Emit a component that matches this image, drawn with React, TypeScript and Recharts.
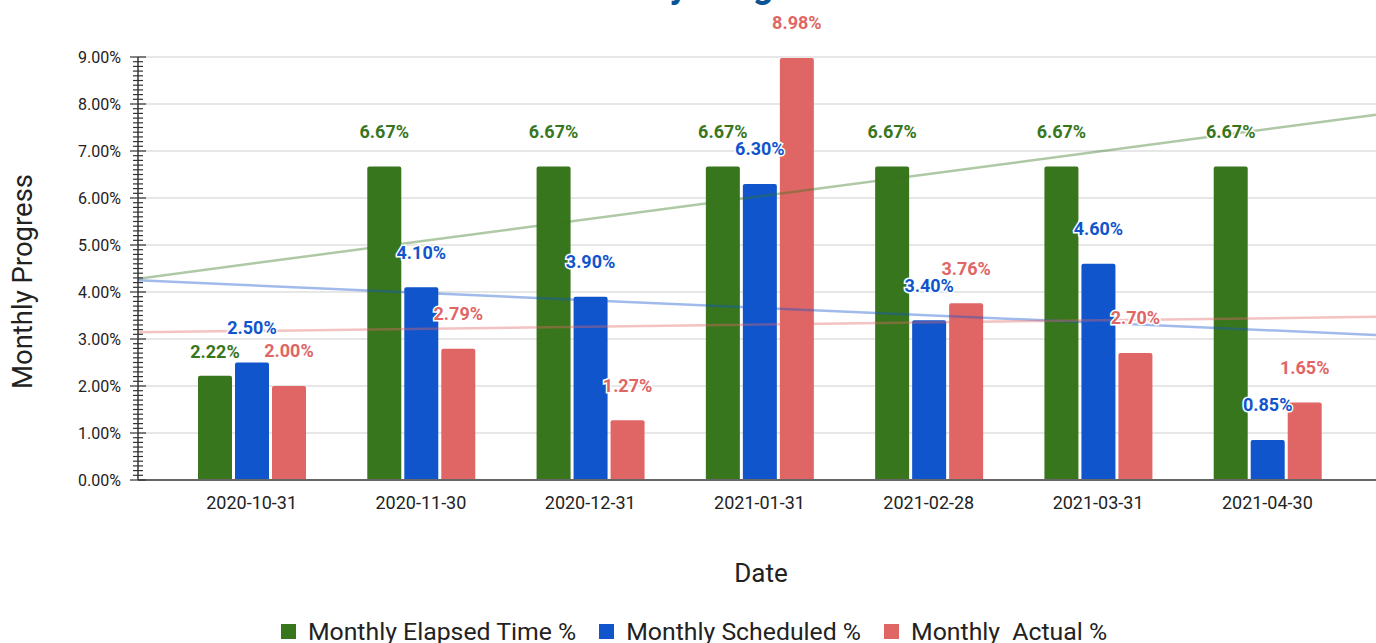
import React from "react";
import {
  ComposedChart,
  Bar,
  Line,
  XAxis,
  YAxis,
  CartesianGrid,
  LabelList,
  Legend,
  Label,
  Customized,
} from "recharts";

// ---- data ----
const dates = ["2020-10-31", "2020-11-30", "2020-12-31", "2021-01-31", "2021-02-28", "2021-03-31", "2021-04-30"];
const elapsedPct = [2.22, 6.67, 6.67, 6.67, 6.67, 6.67, 6.67];
const scheduledPct = [2.5, 4.1, 3.9, 6.3, 3.4, 4.6, 0.85];
const actualPct = [2.0, 2.79, 1.27, 8.98, 3.76, 2.7, 1.65];
const yMajorTicks = [0, 1, 2, 3, 4, 5, 6, 7, 8, 9];

const series = [
  { key: "elapsed", name: "Monthly Elapsed Time %", color: "#38761d", values: elapsedPct },
  { key: "scheduled", name: "Monthly Scheduled %", color: "#1155cc", values: scheduledPct },
  { key: "actual", name: "Monthly  Actual %", color: "#e06666", values: actualPct },
];

const data = dates.map((d, i) => ({
  date: d,
  elapsed: elapsedPct[i],
  scheduled: scheduledPct[i],
  actual: actualPct[i],
}));

// ---- layout ----
const W = 1376;
const H = 643;
const PLOT_LEFT = 138;
const PLOT_TOP = 57;
const PLOT_BOTTOM = 480;
const PAD_L = 29;
const PAD_R = 24;
const LEGEND_H = 24;
const XAXIS_H = H - PLOT_BOTTOM - LEGEND_H;
const FONT = "Roboto, sans-serif";

// minor ticks every 0.1%
const yTicks = Array.from({ length: 91 }, (_, i) => i / 10);

// trend line: least squares over category index, stretched to the plot edges
const plotW = W - PLOT_LEFT;
const band = (plotW - PAD_L - PAD_R) / dates.length;
const trendX0 = -(PAD_L + band / 2) / band;
const trendX1 = (plotW - PAD_L - band / 2) / band;

function trend(values: number[]) {
  const n = values.length;
  const mx = (n - 1) / 2;
  const my = values.reduce((a, b) => a + b, 0) / n;
  let sxy = 0;
  let sxx = 0;
  values.forEach((v, i) => {
    sxy += (i - mx) * (v - my);
    sxx += (i - mx) * (i - mx);
  });
  const slope = sxy / sxx;
  return [trendX0, trendX1].map((x) => ({ x, y: my + slope * (x - mx) }));
}

const YTick = (props: any) => {
  const { x, y, payload } = props;
  const v = payload.value;
  const major = Math.abs(v - Math.round(v)) < 1e-6;
  const half = major ? 8 : 5;
  return (
    <g>
      <line x1={x - half} x2={x + half} y1={y} y2={y} stroke="#333" strokeWidth={1.2} />
      {major && (
        <text x={x - 17} y={y} dy="0.35em" textAnchor="end" fontSize={16} fill="#222" fontFamily={FONT}>
          {v.toFixed(2)}%
        </text>
      )}
    </g>
  );
};

const XTick = (props: any) => {
  const { x, y, payload } = props;
  return (
    <text x={x} y={y + 29} textAnchor="middle" fontSize={18} fill="#222" fontFamily={FONT}>
      {payload.value}
    </text>
  );
};

const makeLabel = (color: string, key: string) => (props: any) => {
  const { x, y, width, value, index } = props;
  let off = 35;
  // nudge the green label down when it would collide with the blue one
  if (key === "elapsed" && scheduledPct[index] > value && scheduledPct[index] - value < 0.5) off = 24;
  return (
    <text
      x={x + width / 2}
      y={y - off}
      dy="0.35em"
      textAnchor="middle"
      fontSize={18}
      fontWeight={700}
      fill={color}
      stroke="#fff"
      strokeWidth={3}
      paintOrder="stroke"
      fontFamily={FONT}
    >
      {Number(value).toFixed(2)}%
    </text>
  );
};

const renderLegend = () => (
  <div
    style={{
      display: "flex",
      justifyContent: "center",
      alignItems: "center",
      height: LEGEND_H,
      fontSize: 24.8,
      color: "#222",
      fontFamily: FONT,
      paddingLeft: 12,
    }}
  >
    {series.map((s, i) => (
      <div key={s.key} style={{ display: "flex", alignItems: "center", marginLeft: i ? 23 : 0 }}>
        <span style={{ width: 15, height: 15, background: s.color, marginRight: 12, display: "inline-block" }} />
        <span style={{ whiteSpace: "pre" }}>{s.name}</span>
      </div>
    ))}
  </div>
);

const Title = () => (
  <text x={699} y={-3} textAnchor="middle" fontSize={36} fontWeight={700} fill="#0b5394" fontFamily={FONT}>
    Monthly Progress
  </text>
);

export default function App() {
  return (
    <div style={{ position: "absolute", left: 0, top: 0, width: W, height: H, background: "#fff", fontFamily: FONT }}>
      <ComposedChart
        width={W}
        height={H}
        data={data}
        margin={{ top: PLOT_TOP, right: 0, left: 0, bottom: 0 }}
        barSize={34}
        barGap={3}
        style={{ overflow: "visible" }}
      >
        <CartesianGrid vertical={false} stroke="#cfcfcf" horizontalValues={yMajorTicks} />
        <XAxis
          dataKey="date"
          height={XAXIS_H}
          padding={{ left: PAD_L, right: PAD_R }}
          axisLine={{ stroke: "#666", strokeWidth: 2 }}
          tickLine={false}
          tickSize={0}
          tickMargin={0}
          tick={<XTick />}
          interval={0}
        >
          <Label
            content={({ viewBox }: any) => (
              <text
                x={viewBox.x + viewBox.width / 2 + 4}
                y={viewBox.y + 102}
                textAnchor="middle"
                fontSize={26}
                fill="#222"
                fontFamily={FONT}
              >
                Date
              </text>
            )}
          />
        </XAxis>
        <XAxis xAxisId="trend" type="number" dataKey="x" domain={[trendX0, trendX1]} allowDataOverflow hide />
        <YAxis
          width={PLOT_LEFT}
          domain={[0, 9]}
          ticks={yTicks}
          interval={0}
          tickLine={false}
          tickSize={0}
          tickMargin={0}
          tick={<YTick />}
          axisLine={{ stroke: "#333", strokeWidth: 1.5 }}
          allowDataOverflow
        >
          <Label
            content={({ viewBox }: any) => (
              <text
                transform={`translate(22, ${viewBox.y + viewBox.height / 2 + 13}) rotate(-90)`}
                textAnchor="middle"
                dy="0.35em"
                fontSize={27.5}
                fill="#222"
                fontFamily={FONT}
              >
                Monthly Progress
              </text>
            )}
          />
        </YAxis>
        {series.map((s) => (
          <Bar key={s.key} dataKey={s.key} name={s.name} fill={s.color} radius={[2, 2, 0, 0]} isAnimationActive={false}>
            <LabelList dataKey={s.key} content={makeLabel(s.color, s.key)} />
          </Bar>
        ))}
        {series.map((s) => (
          <Line
            key={`trend-${s.key}`}
            xAxisId="trend"
            data={trend(s.values)}
            dataKey="y"
            stroke={s.color}
            strokeOpacity={0.4}
            strokeWidth={2.5}
            dot={false}
            activeDot={false}
            legendType="none"
            isAnimationActive={false}
          />
        ))}
        <Legend verticalAlign="bottom" height={LEGEND_H} content={renderLegend} wrapperStyle={{ left: 0, width: W }} />
        <Customized component={Title} />
      </ComposedChart>
    </div>
  );
}
